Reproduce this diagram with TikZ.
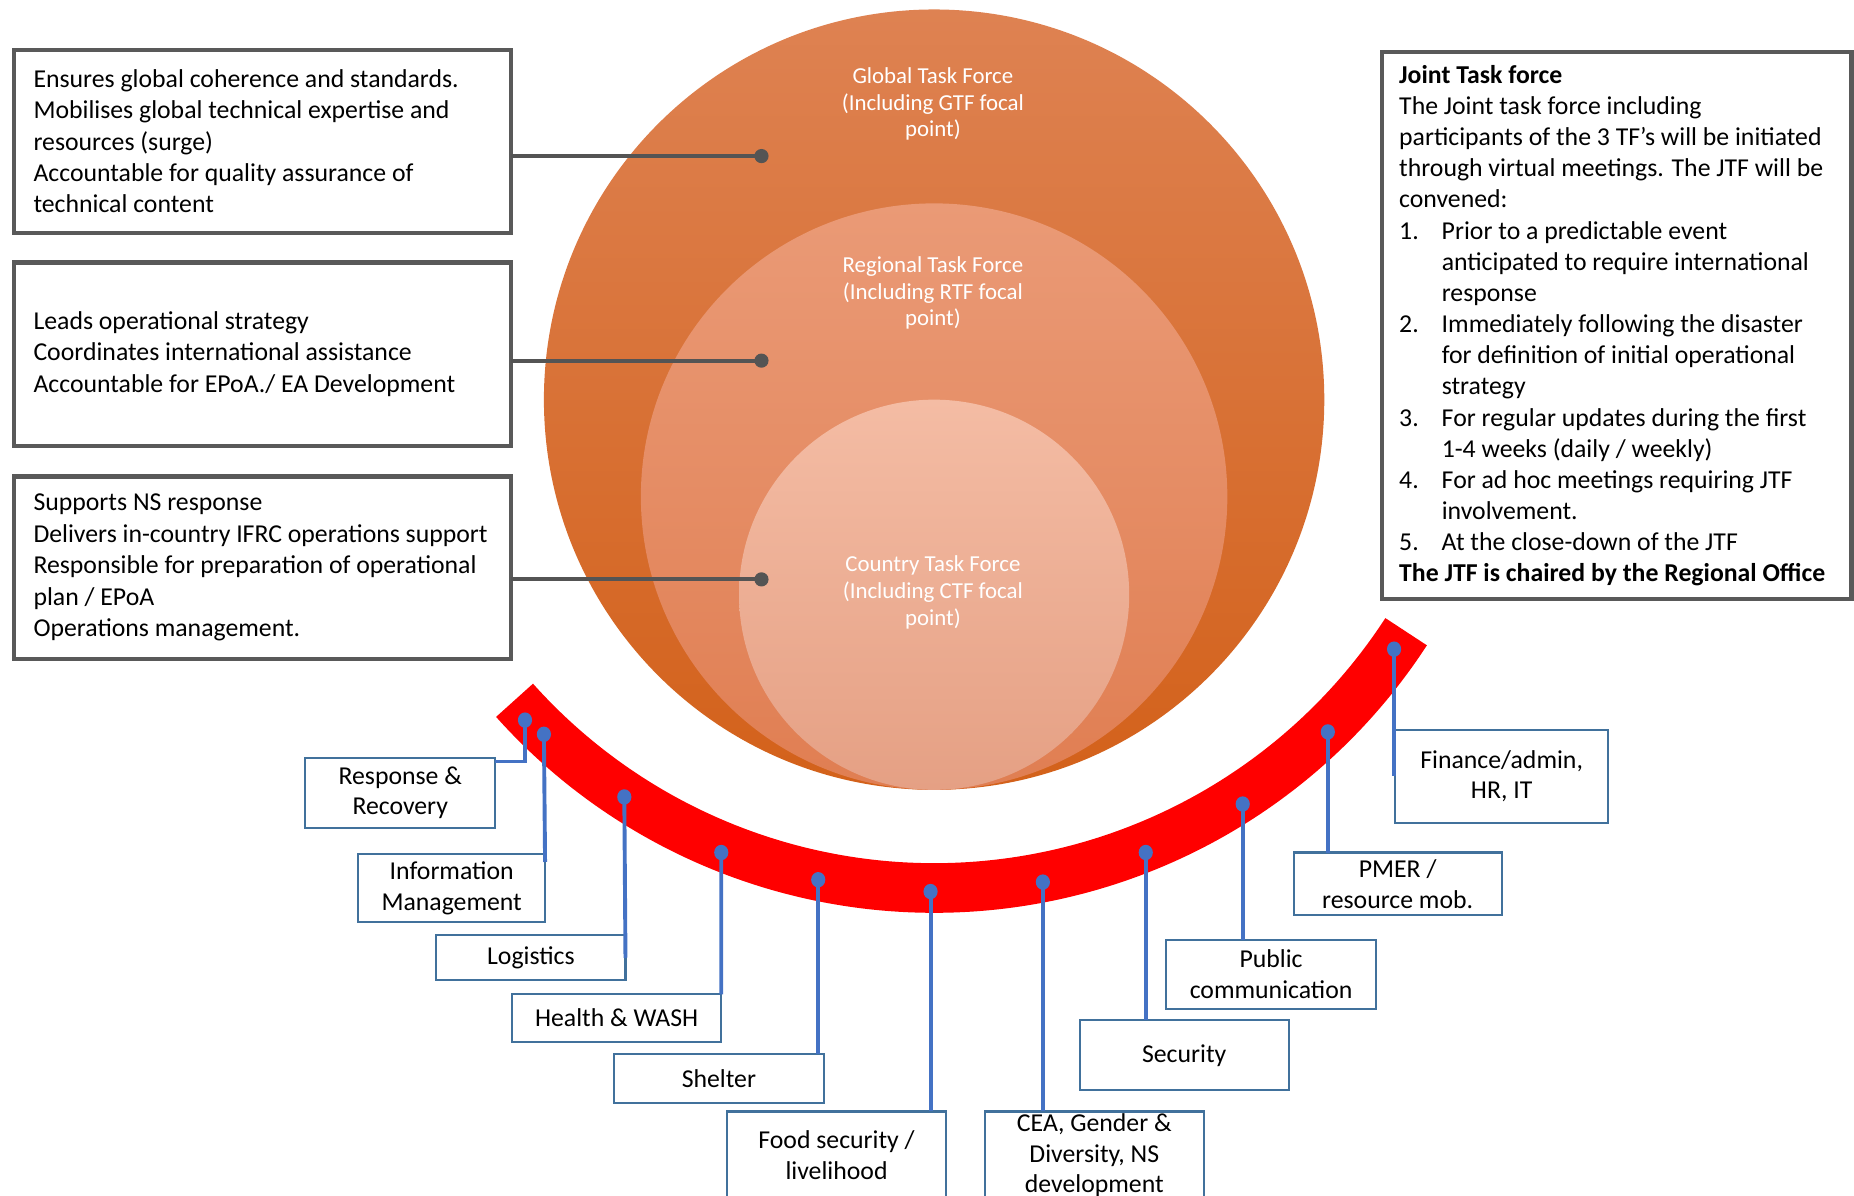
\documentclass[tikz,border=0pt]{standalone}
\usepackage{fontspec}
\setmainfont{Carlito}
\usetikzlibrary{positioning}

\definecolor{gtftop}{RGB}{222,130,82}
\definecolor{gtfbottom}{RGB}{211,97,26}
\definecolor{rtftop}{RGB}{234,154,118}
\definecolor{rtfbottom}{RGB}{224,126,82}
\definecolor{ctftop}{RGB}{244,188,164}
\definecolor{ctfbottom}{RGB}{229,160,132}
\definecolor{boxgray}{RGB}{89,89,89}
\definecolor{linkgray}{RGB}{84,84,84}
\definecolor{tfblue}{RGB}{68,114,196}
\definecolor{labelblue}{RGB}{65,113,156}

\begin{document}
\begin{tikzpicture}[x=0.02cm,y=-0.02cm,
  tfbox/.style={draw=boxgray,line width=0.07cm,fill=white,anchor=north west,inner sep=0pt,outer sep=0pt},
  tftext/.style={align=left,inner sep=0pt,font=\fontsize{12.4}{15.1}\selectfont},
  tfname/.style={text=white,align=center,font=\fontsize{11}{12.8}\selectfont},
  areabox/.style={draw=labelblue,line width=0.035cm,fill=white,align=center,inner sep=0pt,outer sep=0pt,font=\fontsize{12.4}{14.8}\selectfont},
  greylink/.style={linkgray,line width=0.07cm},
  bluelink/.style={tfblue,line width=0.066cm}]
\useasboundingbox (0,0) rectangle (1568,1011);

\shade[top color=gtftop,bottom color=gtfbottom] (790,338) circle (330);
\shade[top color=rtftop,bottom color=rtfbottom] (790,420) circle (248);
\shade[top color=ctftop,bottom color=ctfbottom] (790,503) circle (165);
\node[tfname] (gtf) at (789,88) {Global Task Force\\(Including GTF focal\\point)};
\node[tfname] (rtf) at (789,248) {Regional Task Force\\(Including RTF focal\\point)};
\node[tfname] (ctf) at (789,501) {Country Task Force\\(Including CTF focal\\point)};

\coordinate (hub) at (790,275);
\draw[red,line width=0.84cm] (hub) ++(33:476) arc[start angle=33,end angle=138.2,radius=476];

\coordinate (dresp) at (444,609);
\coordinate (dinfo) at (460,621);
\coordinate (dlogi) at (528,674);
\coordinate (dhealth) at (610,721);
\coordinate (dshelter) at (692,744);
\coordinate (dfood) at (787,754);
\coordinate (dcea) at (882,746);
\coordinate (dsecu) at (969,721);
\coordinate (dpubcom) at (1051,680);
\coordinate (dpmer) at (1123,619);
\coordinate (dfinance) at (1179,549);

\node[areabox,minimum width=3.22cm,minimum height=1.18cm] (resp) at (338.5,670.5) {Response \&\\Recovery};
\node[areabox,minimum width=3.16cm,minimum height=1.16cm] (info) at (382,751) {Information\\Management};
\node[areabox,minimum width=3.2cm,minimum height=0.76cm] (logi) at (449,810) {Logistics};
\node[areabox,minimum width=3.54cm,minimum height=0.8cm] (health) at (521.5,861) {Health \& WASH};
\node[areabox,minimum width=3.56cm,minimum height=0.84cm] (shelter) at (608,912) {Shelter};
\node[areabox,minimum width=3.7cm,minimum height=1.48cm] (food) at (707.5,977) {Food security /\\livelihood};
\node[areabox,minimum width=3.7cm,minimum height=1.48cm] (cea) at (925.5,977) {CEA, Gender \&\\Diversity, NS\\development};
\node[areabox,minimum width=3.54cm,minimum height=1.18cm] (secu) at (1001.5,892.5) {Security};
\node[areabox,minimum width=3.56cm,minimum height=1.16cm] (pubcom) at (1075,824) {Public\\communication};
\node[areabox,minimum width=3.52cm,minimum height=1.06cm] (pmer) at (1182,747.5) {PMER /\\resource mob.};
\node[areabox,minimum width=3.6cm,minimum height=1.58cm] (finance) at (1270,656.5) {Finance/admin,\\HR, IT};

\draw[bluelink] (dresp) |- ([yshift=-0.06cm]resp.north east);
\draw[bluelink] (dinfo) -- ([yshift=-0.14cm]info.north east);
\draw[bluelink] (dlogi) -- (logi.east);
\draw[bluelink] (dhealth) -- (health.north east);
\draw[bluelink] (dshelter) -- (dshelter |- shelter.north);
\draw[bluelink] (dfood) -- (dfood |- food.north);
\draw[bluelink] (dcea) -- (dcea |- cea.north);
\draw[bluelink] (dsecu) -- (dsecu |- secu.north);
\draw[bluelink] (dpubcom) -- (dpubcom |- pubcom.north);
\draw[bluelink] (dpmer) -- (dpmer |- pmer.north);
\draw[bluelink] (dfinance) -- (dfinance |- finance.west);
\fill[tfblue] (dresp) ellipse (6 and 6.5);
\fill[tfblue] (dinfo) ellipse (6 and 6.5);
\fill[tfblue] (dlogi) ellipse (6 and 6.5);
\fill[tfblue] (dhealth) ellipse (6 and 6.5);
\fill[tfblue] (dshelter) ellipse (6 and 6.5);
\fill[tfblue] (dfood) ellipse (6 and 6.5);
\fill[tfblue] (dcea) ellipse (6 and 6.5);
\fill[tfblue] (dsecu) ellipse (6 and 6.5);
\fill[tfblue] (dpubcom) ellipse (6 and 6.5);
\fill[tfblue] (dpmer) ellipse (6 and 6.5);
\fill[tfblue] (dfinance) ellipse (6 and 6.5);

\node[tfbox,minimum width=8.4cm,minimum height=3.1cm] (gtfbox) at (12,42) {};
\node[tftext,right=0.32cm of gtfbox.west] (gtftext) {Ensures global coherence and standards.\\Mobilises global technical expertise and\\resources (surge)\\Accountable for quality assurance of\\technical content};
\node[tfbox,minimum width=8.4cm,minimum height=3.1cm] (rtfbox) at (12,222) {};
\node[tftext,right=0.32cm of rtfbox.west] (rtftext) {Leads operational strategy\\Coordinates international assistance\\Accountable for EPoA./ EA Development};
\node[tfbox,minimum width=8.4cm,minimum height=3.08cm] (ctfbox) at (12,403) {};
\node[tftext,right=0.32cm of ctfbox.west] (ctftext) {Supports NS response\\Delivers in-country IFRC operations support\\Responsible for preparation of operational\\plan / EPoA\\Operations management.};

\coordinate (gdot) at (644,132);
\coordinate (rdot) at (644,305);
\coordinate (cdot) at (644,490);
\draw[greylink] (gdot -| gtfbox.east) -- (gdot);
\draw[greylink] (rdot -| rtfbox.east) -- (rdot);
\draw[greylink] (cdot -| ctfbox.east) -- (cdot);
\fill[linkgray] (gdot) circle (6);
\fill[linkgray] (rdot) circle (6);
\fill[linkgray] (cdot) circle (6);

\node[tfbox,minimum width=7.94cm,minimum height=9.26cm] (jtfbox) at (1169,44) {};
\node[tftext,right=0.28cm of jtfbox.west,font=\fontsize{12.4}{15.0}\selectfont] (jtftext) {\textbf{Joint Task force}\\
The Joint task force including\\
participants of the 3 TF’s will be initiated\\
through virtual meetings. The JTF will be\\
convened:\\
\makebox[0.72cm][l]{1.}Prior to a predictable event\\
\hspace*{0.72cm}anticipated to require international\\
\hspace*{0.72cm}response\\
\makebox[0.72cm][l]{2.}Immediately following the disaster\\
\hspace*{0.72cm}for definition of initial operational\\
\hspace*{0.72cm}strategy\\
\makebox[0.72cm][l]{3.}For regular updates during the first\\
\hspace*{0.72cm}1-4 weeks (daily / weekly)\\
\makebox[0.72cm][l]{4.}For ad hoc meetings requiring JTF\\
\hspace*{0.72cm}involvement.\\
\makebox[0.72cm][l]{5.}At the close-down of the JTF\\
\textbf{The JTF is chaired by the Regional Office}};

\end{tikzpicture}
\end{document}
